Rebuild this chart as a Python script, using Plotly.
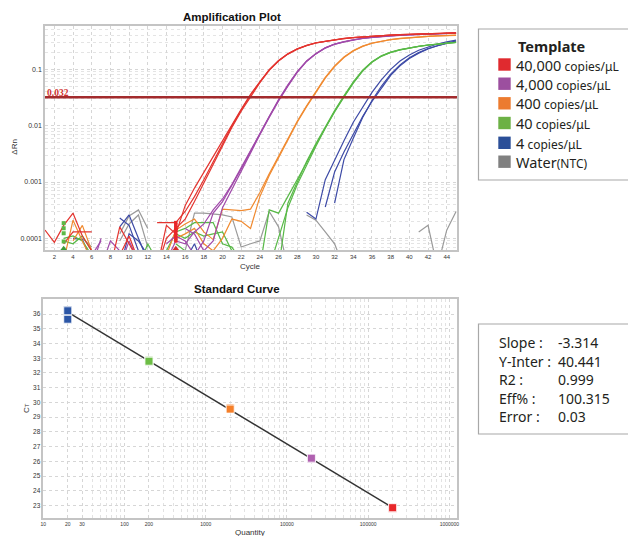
import plotly.graph_objects as go

# page body has an 8px margin, so the figure is drawn 8px smaller and coordinates are offset
OFF = 8
W, H = 636 - OFF, 536 - OFF
N = None

# ---------------- Amplification plot data (ΔRn per cycle) ----------------
cycles = list(range(1, 46))
threshold = 0.032

red_1 = [0.00014, 0.000085, 0.00017, 0.00028, 0.00011,
         0.00006, N, 0.00003, 0.00016, 0.00008,
         0.00004, N, 0.00019, 0.00019, 0.00019,
         0.00030, 0.00055, 0.0011, 0.0023, 0.0048,
         0.0098, 0.019, 0.035, 0.060, 0.098,
         0.142, 0.188, 0.230, 0.265, 0.295,
         0.315, 0.335, 0.352, 0.366, 0.378,
         0.388, 0.397, 0.405, 0.412, 0.418,
         0.424, 0.429, 0.434, 0.438, 0.442]
red_2 = [N, N, 0.00008, 0.00013, 0.00013,
         0.00013, N, N, 0.00005, 0.00011,
         0.00004, N, 0.00003, 0.00017, 0.00012,
         0.00038, 0.00078, 0.0015, 0.0028, 0.0053,
         0.0103, 0.0195, 0.036, 0.061, 0.099,
         0.143, 0.189, 0.231, 0.266, 0.296,
         0.316, 0.336, 0.353, 0.367, 0.379,
         0.389, 0.398, 0.406, 0.413, 0.419,
         0.425, 0.430, 0.435, 0.439, 0.443]
red_3 = [N, N, N, N, N,
         N, N, N, N, N,
         N, N, 0.00003, 0.00010, 0.00015,
         0.00022, 0.00045, 0.00095, 0.0021, 0.0045,
         0.0093, 0.018, 0.033, 0.058, 0.096,
         0.140, 0.186, 0.228, 0.263, 0.293,
         0.314, 0.334, 0.351, 0.365, 0.377,
         0.387, 0.396, 0.404, 0.411, 0.417,
         0.423, 0.428, 0.433, 0.437, 0.441]

purple_1 = [N, N, N, N, N,
            0.00003, 0.00010, N, 0.00003, 0.00009,
            0.00004, N, N, 0.00008, 0.00011,
            0.00009, 0.00005, 0.00009, 0.00028, 0.00045,
            0.00085, 0.0017, 0.0035, 0.0072, 0.0145,
            0.028, 0.052, 0.090, 0.140, 0.190,
            0.240, 0.280, 0.310, 0.335, 0.355,
            0.370, 0.383, 0.394, 0.403, 0.411,
            0.418, 0.424, 0.430, 0.435, 0.440]
purple_2 = [N, N, N, N, N,
            N, 0.00003, 0.00009, 0.00006, N,
            N, N, N, N, N,
            0.00015, 0.00012, 0.00006, 0.00009, 0.00035,
            0.00075, 0.0016, 0.0033, 0.0069, 0.0140,
            0.0275, 0.050, 0.088, 0.138, 0.188,
            0.238, 0.278, 0.308, 0.333, 0.353,
            0.368, 0.381, 0.392, 0.401, 0.409,
            0.416, 0.422, 0.428, 0.433, 0.438]
purple_3 = [N, N, N, N, N,
            0.00005, 0.00009, N, N, N,
            N, N, N, 0.00004, 0.00009,
            0.00008, 0.00013, 0.00018, 0.00032, 0.00050,
            0.0009, 0.0018, 0.0036, 0.0074, 0.0148,
            0.029, 0.053, 0.091, 0.141, 0.191,
            0.241, 0.281, 0.311, 0.336, 0.356,
            0.371, 0.384, 0.395, 0.404, 0.412,
            0.419, 0.425, 0.431, 0.436, 0.441]

orange_1 = [N, N, 0.00004, 0.00021, 0.00009,
            0.00004, N, N, N, N,
            N, N, N, 0.00005, 0.00014,
            0.00018, 0.00022, 0.00013, 0.000095, 0.00033,
            0.00032, 0.00031, 0.00033, 0.00065, 0.0014,
            0.0029, 0.0060, 0.0120, 0.0225, 0.040,
            0.072, 0.115, 0.165, 0.215, 0.258,
            0.292, 0.318, 0.338, 0.354, 0.367,
            0.377, 0.386, 0.393, 0.399, 0.404]
orange_2 = [N, N, N, 0.00009, 0.00017,
            0.00006, N, N, N, N,
            N, N, N, N, 0.00010,
            0.00012, 0.00015, 0.00008, 0.00006, 0.00010,
            0.00022, 0.00020, 0.00015, 0.00055, 0.0013,
            0.0027, 0.0057, 0.0115, 0.0218, 0.039,
            0.070, 0.112, 0.162, 0.212, 0.255,
            0.290, 0.316, 0.336, 0.352, 0.365,
            0.375, 0.384, 0.391, 0.397, 0.402]

green_1 = [N, N, 0.00010, 0.00011, 0.00009,
           0.00005, N, N, N, N,
           0.00003, 0.00008, 0.00004, 0.00006, 0.00013,
           0.00015, 0.00019, 0.00019, 0.00019, 0.00008,
           0.00007, 0.00004, N, 0.00003, 0.00032,
           0.00028, 0.00055, 0.0011, 0.0022, 0.0046,
           0.0094, 0.018, 0.033, 0.058, 0.095,
           0.135, 0.172, 0.200, 0.222, 0.240,
           0.255, 0.268, 0.280, 0.290, 0.300]
green_2 = [N, N, 0.00009, 0.00008, 0.00011,
           0.00006, N, N, N, N,
           N, N, N, N, 0.00008,
           0.00006, 0.00004, N, N, N,
           N, N, N, N, 0.00003,
           0.00010, 0.00035, 0.0009, 0.0020, 0.0043,
           0.0090, 0.0175, 0.032, 0.057, 0.093,
           0.133, 0.170, 0.199, 0.221, 0.240,
           0.256, 0.270, 0.282, 0.292, 0.302]
green_3 = [N, N, N, N, N,
           N, N, N, N, N,
           N, N, N, N, 0.00012,
           0.00010, 0.00013, 0.00011, 0.00012, 0.00013,
           0.00006, N, N, N, N,
           0.00003, 0.00042, 0.0010, 0.0023, 0.0048,
           0.0097, 0.0185, 0.034, 0.060, 0.097,
           0.137, 0.174, 0.202, 0.224, 0.242,
           0.257, 0.270, 0.281, 0.291, 0.301]

blue_1 = [N, N, N, 0.00010, 0.000095,
          0.00004, N, N, 0.00023, 0.00017,
          0.00006, 0.00003, N, N, N,
          N, N, N, N, N,
          N, N, N, N, N,
          N, N, N, 0.00029, 0.00022,
          0.0011, 0.0025, 0.0054, 0.0115, 0.0215,
          0.039, 0.065, 0.100, 0.140, 0.180,
          0.218, 0.252, 0.282, 0.308, 0.330]
blue_2 = [N, N, N, N, N,
          N, N, N, 0.00016, 0.00026,
          0.00010, 0.00004, N, N, N,
          N, N, N, N, N,
          N, N, N, N, N,
          N, N, N, N, N,
          0.00036, 0.0015, 0.0034, 0.0072, 0.0145,
          0.027, 0.047, 0.078, 0.115, 0.155,
          0.194, 0.230, 0.262, 0.290, 0.315]
blue_3 = [N, N, N, N, N,
          N, N, N, 0.00003, 0.00012,
          0.00009, 0.00005, N, N, N,
          0.00004, 0.00008, 0.00003, N, N,
          N, N, N, N, N,
          N, N, N, N, N,
          N, 0.00042, 0.0025, 0.0060, 0.0140,
          0.028, 0.050, 0.082, 0.120, 0.160,
          0.198, 0.234, 0.265, 0.292, 0.318]

gray_1 = [N] * 4 + [0.00010, 0.00007, N, N, 0.00012, 0.00025, 0.00032, 0.00015] + [N] * 33
gray_2 = [N] * 8 + [0.00009, 0.00018, 0.00026, 0.00007] + [N] * 33
gray_3 = [N] * 15 + [0.00006, 0.00028, 0.00028, 0.00027, 0.00026, 0.00024,
                     0.00007, 0.00008, 0.00009, 0.00030, 0.00016, 0.00003] + [N] * 18
gray_4 = [N] * 28 + [0.00026, 0.00021, 0.00013, 0.00008, 0.00003] + [N] * 12
gray_5 = [N] * 40 + [0.00013, 0.00017, 0.00003, 0.00014, 0.00030]

# baseline markers
green_base_cycle = 3
green_base_vals = [0.000186, 0.000151, 0.000123, 0.000088]
red_base_cycle = 15
red_base_vals = [0.00019, 0.000172, 0.000155, 0.00014, 0.000125, 0.000112, 0.0001, 0.00009]

# ---------------- Standard curve data ----------------
qty_red, ct_red = [200000, 200000], [22.82, 22.86]
qty_purple, ct_purple = [20000, 20000], [26.18, 26.22]
qty_orange, ct_orange = [2000, 2000], [29.62, 29.55]
qty_green, ct_green = [200, 200, 200], [32.86, 32.78, 32.80]
qty_blue, ct_blue = [20, 20, 20], [36.27, 35.65, 36.22]
fit_qty = [20, 200000]
fit_ct = [36.13, 22.87]

amp_xticks = list(range(2, 45, 2))
amp_yticks = [0.0001, 0.001, 0.01, 0.1]
amp_yticktext = ["0.0001", "0.001", "0.01", "0.1"]
std_xticks = [10, 20, 30, 100, 200, 1000, 10000, 100000, 1000000]
std_xticktext = ["10", "20", "30", "100", "200", "1000", "10000", "100000", "1000000"]
std_yticks = list(range(23, 37))

templates = ["40,000", "4,000", "400", "40", "4", "Water"]
template_units = [" copies/μL", " copies/μL", " copies/μL", " copies/μL", " copies/μL", "(NTC)"]
stat_labels = ["Slope :", "Y-Inter :", "R2 :", "Eff% :", "Error :"]
stat_values = ["-3.314", "40.441", "0.999", "100.315", "0.03"]

# ---------------- styles ----------------
LINE_COL = {"red": "#e3342f", "purple": "#a04aaa", "orange": "#f08a30",
            "green": "#58b947", "blue": "#3d4aa6", "gray": "#9a9a9a"}
MARK_COL = {"red": "#e8272a", "purple": "#b061b0", "orange": "#f57f29",
            "green": "#6cbd45", "blue": "#2b56a6"}
LEG_COL = ["#e02a2f", "#9c4f9f", "#ec7b2f", "#6cb145", "#2b4f98", "#808080"]

def px(x):
    return (x - OFF) / W

def py(y):
    return 1 - (y - OFF) / H

fig = go.Figure()

curve_groups = [
    ([gray_1, gray_2, gray_3, gray_4, gray_5], "gray"),
    ([blue_1, blue_2, blue_3], "blue"),
    ([green_1, green_2, green_3], "green"),
    ([orange_1, orange_2], "orange"),
    ([purple_1, purple_2, purple_3], "purple"),
    ([red_1, red_2, red_3], "red"),
]
for curves, cname in curve_groups:
    for c in curves:
        fig.add_trace(go.Scatter(x=cycles, y=c, mode="lines", connectgaps=False,
                                 line=dict(color=LINE_COL[cname], width=1.2),
                                 showlegend=False, hoverinfo="skip",
                                 xaxis="x", yaxis="y"))

Y_LOG_MIN, Y_LOG_MAX = -4.207, -0.231
fig.add_trace(go.Scatter(x=[green_base_cycle] * len(green_base_vals), y=green_base_vals,
                         mode="markers", marker=dict(symbol="square", size=4, color="#5cb946"),
                         showlegend=False, xaxis="x", yaxis="y"))
fig.add_trace(go.Scatter(x=[red_base_cycle] * len(red_base_vals), y=red_base_vals,
                         mode="markers", marker=dict(symbol="square", size=3.5, color="#e8272a"),
                         showlegend=False, xaxis="x", yaxis="y"))
fig.add_trace(go.Scatter(x=[green_base_cycle, red_base_cycle], y=[10 ** (Y_LOG_MIN + 0.02)] * 2,
                         mode="markers", cliponaxis=False,
                         marker=dict(symbol="triangle-up", size=6, color=["#3a9a3a", "#d42a2a"]),
                         showlegend=False, xaxis="x", yaxis="y"))

# standard curve
fig.add_trace(go.Scatter(x=fit_qty, y=fit_ct, mode="lines",
                         line=dict(color="#333333", width=1.4),
                         showlegend=False, xaxis="x2", yaxis="y2"))
for q, ct, cname in [(qty_blue, ct_blue, "blue"), (qty_green, ct_green, "green"),
                     (qty_orange, ct_orange, "orange"), (qty_purple, ct_purple, "purple"),
                     (qty_red, ct_red, "red")]:
    fig.add_trace(go.Scatter(x=q, y=ct, mode="markers",
                             marker=dict(symbol="square", size=8, color=MARK_COL[cname],
                                         line=dict(color="rgba(255,255,255,0.8)", width=1)),
                             showlegend=False, xaxis="x2", yaxis="y2"))

GRID = "#d6d6d6"
FRAME = "#c4c4c4"
TICKFONT = dict(family="Liberation Sans", size=6, color="#333333")

fig.update_layout(
    width=W, height=H, margin=dict(l=0, r=0, t=0, b=0, autoexpand=False),
    paper_bgcolor="white", plot_bgcolor="white", showlegend=False,
    xaxis=dict(domain=[px(45), px(457)], range=[1.0, 45.1], anchor="y", automargin=False,
               tickvals=amp_xticks, ticks="", showgrid=True, gridcolor=GRID, griddash="dot",
               gridwidth=1, showline=True, mirror=True, linecolor=FRAME, linewidth=1.5,
               zeroline=False, tickfont=TICKFONT),
    yaxis=dict(domain=[py(250), py(26)], type="log", range=[Y_LOG_MIN, Y_LOG_MAX], anchor="x",
               automargin=False,
               tickvals=amp_yticks, ticktext=amp_yticktext, ticks="",
               showgrid=True, gridcolor=GRID, griddash="dot",
               minor=dict(dtick="D1", showgrid=True, gridcolor="#e4e4e4", griddash="dot", ticks=""),
               showline=True, mirror=True, linecolor=FRAME, linewidth=1.5, zeroline=False,
               tickfont=dict(family="Liberation Sans", size=7, color="#333333")),
    xaxis2=dict(domain=[px(43.3), px(456.7)], type="log", range=[1.0, 6.09], anchor="y2",
                automargin=False,
                tickvals=std_xticks, ticktext=std_xticktext, ticks="",
                showgrid=True, gridcolor=GRID, griddash="dot",
                minor=dict(dtick="D1", showgrid=True, gridcolor="#e2e2e2", griddash="dot", ticks=""),
                showline=True, mirror=True, linecolor=FRAME, linewidth=1.5, zeroline=False,
                tickfont=dict(family="Liberation Sans", size=5, color="#333333")),
    yaxis2=dict(domain=[py(518.3), py(299)], range=[22.14, 37.02], anchor="x2",
                automargin=False,
                tickvals=std_yticks, ticks="", showgrid=True, gridcolor=GRID, griddash="dot",
                showline=True, mirror=True, linecolor=FRAME, linewidth=1.5, zeroline=False,
                tickfont=dict(family="Liberation Sans", size=6.5, color="#333333")),
)

shapes = [
    dict(type="line", xref="x domain", yref="y", x0=0, x1=1, y0=threshold, y1=threshold,
         line=dict(color="#a32b2d", width=2.6)),
    dict(type="rect", xref="paper", yref="paper", x0=px(478.5), x1=px(635), y0=py(180), y1=py(29),
         line=dict(color="#a8a8a8", width=1.2), fillcolor="rgba(0,0,0,0)"),
    dict(type="rect", xref="paper", yref="paper", x0=px(478.5), x1=px(635), y0=py(434), y1=py(324),
         line=dict(color="#a8a8a8", width=1.2), fillcolor="rgba(0,0,0,0)"),
]
leg_rows = [64.5, 83.7, 103.3, 123.0, 142.8, 161.7]
for row, col in zip(leg_rows, LEG_COL):
    shapes.append(dict(type="rect", xref="paper", yref="paper",
                       x0=px(498.3), x1=px(510.7), y0=py(row + 6.2), y1=py(row - 6.2),
                       line=dict(width=0), fillcolor=col))
fig.update_layout(shapes=shapes)

TFONT = "Liberation Sans"
LFONT = "Noto Sans"
ann = [
    dict(text="<b>Amplification Plot</b>", x=px(231.7), y=py(16.7),
         font=dict(family=TFONT, size=11.5, color="#111111"), xanchor="center"),
    dict(text="<b>Standard Curve</b>", x=px(236.7), y=py(289.3),
         font=dict(family=TFONT, size=11.5, color="#111111"), xanchor="center"),
    dict(text="ΔRn", x=px(15), y=py(146.7), textangle=-90,
         font=dict(family=TFONT, size=8, color="#333333"), xanchor="center"),
    dict(text="Cycle", x=px(250.7), y=py(266.7),
         font=dict(family=TFONT, size=8, color="#333333"), xanchor="center"),
    dict(text="C<span style='font-size:6px'>T</span>", x=px(26.7), y=py(408.3), textangle=-90,
         font=dict(family=TFONT, size=8, color="#333333"), xanchor="center"),
    dict(text="Quantity", x=px(250), y=py(532.5),
         font=dict(family=TFONT, size=8, color="#333333"), xanchor="center"),
    dict(text="<b>%s</b>" % threshold, x=px(44.5), y=py(92.5),
         font=dict(family="Liberation Serif", size=9.5, color="#d0302f"), xanchor="left"),
    dict(text="<b>Template</b>", x=px(515.5), y=py(46),
         font=dict(family=LFONT, size=14.5, color="#231f20"), xanchor="left"),
]
for row, t, u in zip(leg_rows, templates, template_units):
    ann.append(dict(text="%s<span style='font-size:12px'>%s</span>" % (t, u),
                    x=px(514), y=py(row), xanchor="left",
                    font=dict(family=LFONT, size=14.5, color="#231f20")))
stat_rows = [342, 361, 379.3, 398, 416]
for row, lab, val in zip(stat_rows, stat_labels, stat_values):
    ann.append(dict(text=lab, x=px(497), y=py(row), xanchor="left",
                    font=dict(family=LFONT, size=14, color="#231f20")))
    ann.append(dict(text=val, x=px(556), y=py(row), xanchor="left",
                    font=dict(family=LFONT, size=14, color="#231f20")))
for a in ann:
    a.update(xref="paper", yref="paper", showarrow=False, yanchor="middle")
fig.update_layout(annotations=ann)

fig.write_html("out.html")
